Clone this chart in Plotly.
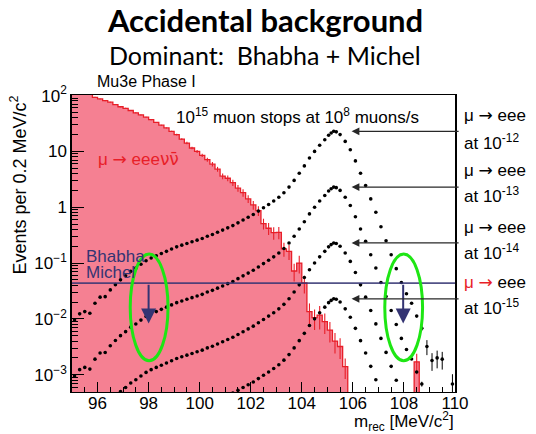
import numpy as np
import plotly.graph_objects as go

# ---------------- data ----------------
# mu -> eee nu nubar background, events per 0.2 MeV bin (left edges from 95.0)
hist_start = 95.0
hist_bin = 0.2
hist_vals = [160, 141, 120, 105, 93, 87, 81, 76, 69, 63,
             59, 54, 49, 45, 41, 37, 33, 29.5, 26.3, 22.9,
             20.0, 16.6, 14.1, 11.5, 10.0, 8.5, 7.1, 5.9, 4.8, 3.6,
             3.3, 2.75, 2.19, 1.82, 1.41, 1.10, 0.87, 0.51, 0.42, 0.35,
             0.355, 0.18, 0.162, 0.072, 0.100, 0.044, 0.0135, 0.0105, 0.0117, 0.0089,
             0.0063, 0.0040, 0.0032, 0.0014]
hist_rel_err = [0.02] * 20 + [0.04, 0.04, 0.05, 0.05, 0.06, 0.07, 0.08, 0.09, 0.10, 0.12,
                              0.12, 0.13, 0.14, 0.15, 0.16, 0.18, 0.2, 0.22, 0.24, 0.25,
                              0.25, 0.28, 0.3, 0.35, 0.35, 0.35, 0.4, 0.4, 0.45, 0.4,
                              0.4, 0.4, 0.4, 0.4]
spike_left = 108.4
spike_val = 0.0017
spike_rel_err = 0.4

# signal mu -> eee shape at BR 1e-12 (events per bin)
sig_x = [95.1, 95.3, 95.5, 95.7, 95.9, 96.1, 96.3, 96.5, 96.7, 96.9,
         97.1, 97.3, 97.5, 97.7, 97.9, 98.1, 98.3, 98.5, 98.7, 98.9,
         99.1, 99.3, 99.5, 99.7, 99.9, 100.1, 100.3, 100.5, 100.7, 100.9,
         101.1, 101.3, 101.5, 101.7, 101.9, 102.1, 102.3, 102.5, 102.7, 102.9,
         103.1, 103.3, 103.5, 103.7, 103.9, 104.1, 104.3, 104.5, 104.7, 104.9,
         105.05, 105.15, 105.25, 105.35, 105.5, 105.7, 105.9, 106.1, 106.3, 106.5,
         106.7, 106.9, 107.1, 107.3, 107.5, 107.7, 107.9, 108.1, 108.3, 108.5,
         108.7, 108.9, 109.1, 109.3, 109.5, 109.9]
sig_1e12 = [0.0095, 0.0123, 0.0135, 0.0126, 0.019, 0.0245, 0.025, 0.033, 0.041, 0.050,
            0.059, 0.071, 0.081, 0.095, 0.110, 0.123, 0.135, 0.148, 0.162, 0.178,
            0.195, 0.209, 0.224, 0.240, 0.257, 0.275, 0.302, 0.324, 0.355, 0.389,
            0.427, 0.468, 0.525, 0.589, 0.661, 0.741, 0.851, 0.977, 1.12, 1.29,
            1.51, 1.82, 2.29, 3.02, 4.07, 5.50, 7.59, 10.0, 12.9, 16.2,
            19.5, 21.4, 22.9, 22.4, 20.0, 15.1, 10.7, 6.76, 4.07, 2.45,
            1.41, 0.813, 0.447, 0.251, 0.141, 0.0794, 0.0447, 0.0282, 0.0191, 0.0112,
            0.0068, 0.0032, 0.0018, 0.0020, 0.0019, 0.00068]
sig_rel_err = [0.0] * 70 + [0.1, 0.3, 0.35, 0.35, 0.35, 0.5]
branching_ratios = [1e-12, 1e-13, 1e-14, 1e-15]
br_labels = ["-12", "-13", "-14", "-15"]

bhabha_michel_level = 0.0435
bhabha_arrow_tip = 0.0083
bhabha_arrow_x = [98.0, 107.97]

# ---------------- style / layout ----------------
W, H = 536, 434
L, R, T, B = 72, 81, 95, 42
X_RANGE = [95, 110]
Y_RANGE_LOG = [-3.31, 2.01]
PINK = "rgb(245,128,146)"
RED = "rgb(232,30,40)"
NAVY = "rgb(52,52,115)"
GREEN = "rgb(30,230,20)"
FONT = "Liberation Sans"
ARROW = "<span style='font-family:DejaVu Sans'>→</span>"


def pxx(xp):
    return (xp - L) / (W - L - R)


def pxy(yp):
    return (H - B - yp) / (H - T - B)


fig = go.Figure()

floor = 10 ** (Y_RANGE_LOG[0] - 1)
edges = [hist_start + hist_bin * i for i in range(len(hist_vals) + 1)]

# histogram fill (step polygon built from the bin values)
poly_x, poly_y = [], []
for i, v in enumerate(hist_vals):
    poly_x += [edges[i], edges[i + 1]]
    poly_y += [v, v]
poly_x += [edges[-1], edges[0]]
poly_y += [floor, floor]
fig.add_trace(go.Scatter(x=poly_x, y=poly_y, mode="lines", fill="toself", fillcolor=PINK,
                         line=dict(width=0), hoverinfo="skip"))
sp_x = [spike_left, spike_left, spike_left + hist_bin, spike_left + hist_bin]
sp_y = [floor, spike_val, spike_val, floor]
fig.add_trace(go.Scatter(x=sp_x, y=sp_y, mode="lines", fill="toself", fillcolor=PINK,
                         line=dict(color=RED, width=1.3), hoverinfo="skip"))

# histogram outline
step_x = edges + [edges[-1]]
step_y = hist_vals + [hist_vals[-1], floor]
fig.add_trace(go.Scatter(x=step_x, y=step_y, mode="lines", line_shape="hv",
                         line=dict(color=RED, width=1.3), hoverinfo="skip"))
# histogram error bars
centers = [hist_start + hist_bin * (i + 0.5) for i in range(len(hist_vals))]
hx = centers + [spike_left + hist_bin / 2]
hy = hist_vals + [spike_val]
he = [v * e for v, e in zip(hist_vals, hist_rel_err)] + [spike_val * spike_rel_err]
fig.add_trace(go.Scatter(x=hx, y=hy, mode="markers", marker=dict(size=0.1, color=RED),
                         error_y=dict(type="data", array=he, color=RED, thickness=1.1, width=0),
                         hoverinfo="skip"))

# signal curves
for br in branching_ratios:
    scale = br / 1e-12
    ys = [v * scale for v in sig_1e12]
    es = [v * scale * e for v, e in zip(sig_1e12, sig_rel_err)]
    fig.add_trace(go.Scatter(x=sig_x, y=ys, mode="markers",
                             marker=dict(size=3.6, color="black"),
                             error_y=dict(type="data", array=es, color="black", thickness=1, width=0),
                             hoverinfo="skip"))

shapes = []
# Bhabha + Michel level
shapes.append(dict(type="line", xref="x", yref="y", x0=X_RANGE[0], x1=X_RANGE[1],
                   y0=bhabha_michel_level, y1=bhabha_michel_level,
                   line=dict(color=NAVY, width=1.8), opacity=0.85))
# green ellipses
for cx in bhabha_arrow_x:
    shapes.append(dict(type="circle", xref="x", yref="y", x0=cx - 0.72, x1=cx + 0.76,
                       y0=10 ** -2.75, y1=10 ** -0.84, line=dict(color=GREEN, width=3)))

annotations = []
# navy arrows
for cx in bhabha_arrow_x:
    annotations.append(dict(x=cx, y=np.log10(bhabha_arrow_tip), ax=cx, ay=np.log10(bhabha_michel_level),
                            xref="x", yref="y", axref="x", ayref="y", text="", showarrow=True,
                            arrowhead=2, arrowsize=1.5, arrowwidth=2, arrowcolor=NAVY, standoff=0))
# black arrows pointing at peaks
peak = max(sig_1e12)
for br in branching_ratios:
    lvl = np.log10(peak * br / 1e-12)
    annotations.append(dict(x=105.95, y=lvl, ax=110.2, ay=lvl, xref="x", yref="y", axref="x", ayref="y",
                            text="", showarrow=True, arrowhead=2, arrowsize=1.3, arrowwidth=1.2,
                            arrowcolor="rgb(40,40,40)", standoff=0))

# right-side labels
label_rows = [(115, 142), (170, 195), (227, 252), (282, 307)]
for i, (y1, y2) in enumerate(label_rows):
    if i == 3:
        t1 = f"<span style='color:{RED}'>μ {ARROW}</span> eee"
    else:
        t1 = f"μ {ARROW} eee"
    annotations.append(dict(x=pxx(462), y=pxy(y1), xref="paper", yref="paper", text=t1,
                            showarrow=False, xanchor="left", yanchor="middle",
                            font=dict(family=FONT, size=17, color="black")))
    annotations.append(dict(x=pxx(462), y=pxy(y2), xref="paper", yref="paper",
                            text=f"at 10<sup>{br_labels[i]}</sup>",
                            showarrow=False, xanchor="left", yanchor="middle",
                            font=dict(family=FONT, size=17, color="black")))

NUBAR = "<span style='font-family:DejaVu Sans'>νν̄</span>"
# titles and texts
annotations += [
    dict(x=pxx(265), y=pxy(20), xref="paper", yref="paper", text="<b>Accidental background</b>",
         showarrow=False, xanchor="center", yanchor="middle", font=dict(family="Lato", size=31, color="black")),
    dict(x=pxx(265), y=pxy(55), xref="paper", yref="paper", text="Dominant:  Bhabha + Michel",
         showarrow=False, xanchor="center", yanchor="middle", font=dict(family="Lato", size=25, color="black")),
    dict(x=pxx(95), y=pxy(81), xref="paper", yref="paper", text="Mu3e Phase I",
         showarrow=False, xanchor="left", yanchor="middle", font=dict(family=FONT, size=16, color="black")),
    dict(x=pxx(174), y=pxy(116), xref="paper", yref="paper",
         text="10<sup>15</sup> muon stops at 10<sup>8</sup> muons/s",
         showarrow=False, xanchor="left", yanchor="middle", font=dict(family=FONT, size=17, color="black")),
    dict(x=pxx(96), y=pxy(159), xref="paper", yref="paper", text=f"μ {ARROW} eee{NUBAR}",
         showarrow=False, xanchor="left", yanchor="middle", font=dict(family=FONT, size=17, color=RED)),
    dict(x=pxx(84), y=pxy(256), xref="paper", yref="paper", text="Bhabha",
         showarrow=False, xanchor="left", yanchor="middle", font=dict(family=FONT, size=17, color=NAVY)),
    dict(x=pxx(84), y=pxy(272), xref="paper", yref="paper", text="Michel",
         showarrow=False, xanchor="left", yanchor="middle", font=dict(family=FONT, size=17, color=NAVY)),
    dict(x=pxx(19), y=pxy(94), xref="paper", yref="paper", text="Events per 0.2 MeV/c<sup>2</sup>",
         textangle=-90, showarrow=False, xanchor="center", yanchor="top",
         font=dict(family=FONT, size=18, color="black")),
    dict(x=pxx(456), y=pxy(421), xref="paper", yref="paper", text="m<sub>rec</sub> [MeV/c<sup>2</sup>]",
         showarrow=False, xanchor="right", yanchor="middle", font=dict(family=FONT, size=17, color="black")),
]

minor_y = [k * 10.0 ** d for d in range(-4, 2) for k in range(2, 10)]
yticks = [1e-3, 1e-2, 1e-1, 1, 10, 100]
ytext = ["10<sup>−3</sup>", "10<sup>−2</sup>", "10<sup>−1</sup>", "1", "10", "10<sup>2</sup>"]

fig.update_layout(
    width=W, height=H, margin=dict(l=L, r=R, t=T, b=B),
    paper_bgcolor="white", plot_bgcolor="white", showlegend=False,
    shapes=shapes, annotations=annotations,
    xaxis=dict(range=X_RANGE, tickvals=list(range(96, 111, 2)), ticks="inside", ticklen=10,
               tickcolor="black", showline=True, linecolor="black", linewidth=1.3, mirror=True,
               showgrid=False, zeroline=False, tickfont=dict(family=FONT, size=17, color="black"),
               ticklabelstandoff=-5,
               minor=dict(dtick=0.5, tick0=95, ticks="inside", ticklen=5, tickcolor="black", showgrid=False)),
    yaxis=dict(type="log", range=Y_RANGE_LOG, tickvals=yticks, ticktext=ytext, ticks="inside",
               ticklen=12, tickcolor="black", showline=True, linecolor="black", linewidth=1.5, mirror=True,
               showgrid=False, zeroline=False, tickfont=dict(family=FONT, size=17, color="black"),
               minor=dict(tickmode="array", tickvals=minor_y, ticks="inside", ticklen=6,
                          tickcolor="black", showgrid=False)),
)

fig.write_html("out.html", config={"displayModeBar": False},
               post_script="document.body.style.margin='0';document.body.style.overflow='hidden';")
